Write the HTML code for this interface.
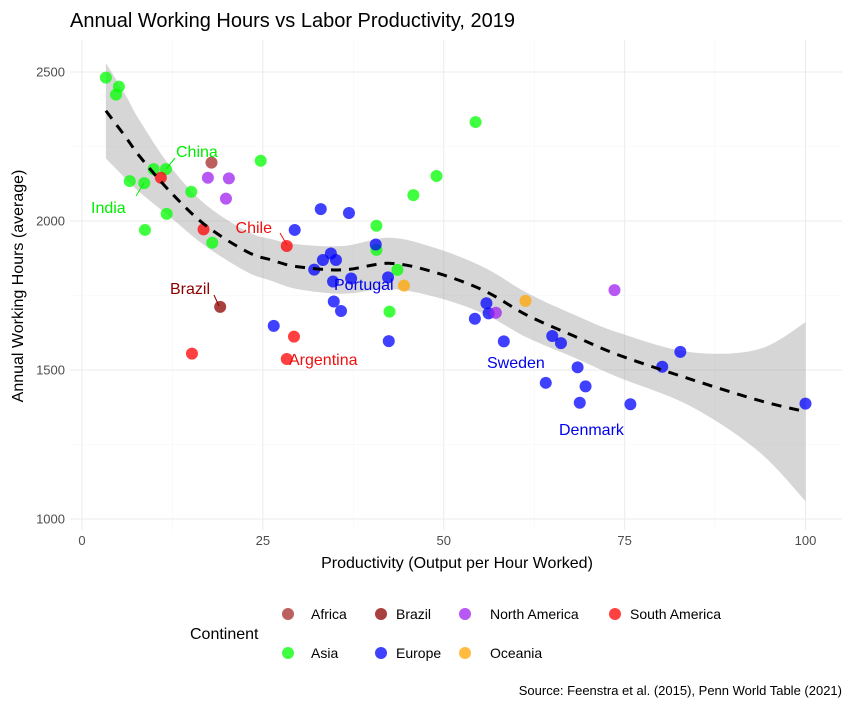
<!DOCTYPE html>
<html><head><meta charset="utf-8">
<style>
body{margin:0;background:#fff;}
svg{display:block;font-family:"Liberation Sans",Arial,sans-serif;}
</style></head>
<body>
<svg id="chart" width="852" height="708" viewBox="0 0 852 708" xmlns="http://www.w3.org/2000/svg">
<rect x="0" y="0" width="852" height="708" fill="#fff"/>
<text x="70" y="27" font-size="20" fill="#000">Annual Working Hours vs Labor Productivity, 2019</text>
<g id="grid"></g>
<g id="band"></g>
<g id="points"></g>
<g id="labels"></g>
<g id="axes"></g>
<text x="457" y="568" font-size="16" text-anchor="middle" fill="#000">Productivity (Output per Hour Worked)</text>
<text transform="translate(23,286) rotate(-90)" font-size="16" text-anchor="middle" fill="#000">Annual Working Hours (average)</text>
<g id="legend"></g>
<text x="842" y="695" font-size="13" text-anchor="end" fill="#000">Source: Feenstra et al. (2015), Penn World Table (2021)</text>
</svg>
<script>
const xTicks=[0,25,50,75,100];
const yTicks=[1000,1500,2000,2500];
const continents=["Africa","Brazil","North America","South America","Asia","Europe","Oceania"];
const colors={"Africa":"#a52a2a","Brazil":"#8b0000","North America":"#a020f0","South America":"#ff0000","Asia":"#00ff00","Europe":"#0000ff","Oceania":"#ffa500"};
const asiaX=[3.3,5.1,4.7,6.6,8.6,8.7,9.9,11.6,11.7,15.1,18.0,24.7,40.7,40.7,43.6,42.5,45.8,49.0,54.4];
const asiaY=[2481,2451,2424,2134,2127,1970,2174,2174,2024,2098,1927,2202,1984,1903,1836,1696,2087,2151,2332];
const europeX=[33.0,36.9,29.4,40.6,34.4,33.3,35.1,32.1,34.7,37.2,42.3,34.8,35.8,26.5,42.4,55.9,56.2,54.3,58.3,65.0,66.2,64.1,68.5,69.6,68.8,75.8,80.2,82.7,100];
const europeY=[2040,2027,1970,1921,1891,1869,1869,1837,1797,1807,1811,1730,1698,1648,1597,1724,1690,1672,1596,1614,1590,1457,1509,1445,1390,1385,1511,1561,1387];
const southAmX=[10.9,16.8,28.3,15.2,29.3,28.3];
const southAmY=[2145,1972,1916,1555,1612,1537];
const brazilX=[19.1];
const brazilY=[1712];
const africaX=[17.9];
const africaY=[2196];
const northAmX=[17.4,20.3,19.9,57.2,73.6];
const northAmY=[2145,2143,2075,1692,1768];
const oceaniaX=[44.5,61.3];
const oceaniaY=[1783,1732];
const smoothX=[3.3,6,8,12.2,17,22.8,26.2,29.7,36.1,42.6,49,55.6,61.5,68,74.2,84,93.4,100];
const smoothY=[2370,2283,2216,2098,1987,1897,1869,1847,1836,1858,1826,1766,1684,1614,1550,1470,1399,1360];
const smoothSE=[160,140,120,85,70,68,70,75,80,86,82,78,75,72,75,90,170,300];
const labelNames=["China","India","Chile","Brazil","Portugal","Argentina","Sweden","Denmark"];

const NS="http://www.w3.org/2000/svg";
const X0=70,X1=842,Y0=40,Y1=530;
function sx(v){return 82+v*7.235;}
function sy(v){return 72+(2500-v)*0.298;}
function mk(tag,attrs,parent){const e=document.createElementNS(NS,tag);for(const k in attrs)e.setAttribute(k,attrs[k]);parent.appendChild(e);return e;}
function smoothPath(p){let d='M'+p[0][0]+','+p[0][1];for(let i=0;i<p.length-1;i++){const a=p[i-1]||p[i],b=p[i],c=p[i+1],e=p[i+2]||c;
 d+=' C'+(b[0]+(c[0]-a[0])/6)+','+(b[1]+(c[1]-a[1])/6)+' '+(c[0]-(e[0]-b[0])/6)+','+(c[1]-(e[1]-b[1])/6)+' '+c[0]+','+c[1];}return d;}

const grid=document.getElementById('grid');
for(let v=-12.5;v<=112.5;v+=12.5){const x=sx(v);if(x<X0||x>X1)continue;const major=(v%25===0);
 const l=mk('line',{x1:x,x2:x,y1:Y0,y2:Y1,stroke:major?'#ebebeb':'#f5f5f5','stroke-width':major?1:0.6},grid);
 
 }
for(let v=1000;v<=2750;v+=250){const y=sy(v);if(y<Y0||y>Y1)continue;const major=(v%500===0);
 const l=mk('line',{x1:X0,x2:X1,y1:y,y2:y,stroke:major?'#ebebeb':'#f5f5f5','stroke-width':major?1:0.6},grid);
 
 }

const axes=document.getElementById('axes');
xTicks.forEach(t=>{const e=mk('text',{x:sx(t),y:545,'font-size':13,'text-anchor':'middle',fill:'#4d4d4d'},axes);e.textContent=t;
 
 });
yTicks.forEach(t=>{const e=mk('text',{x:65,y:sy(t)+4.5,'font-size':13,'text-anchor':'end',fill:'#4d4d4d'},axes);e.textContent=t;
 
 });

const band=document.getElementById('band');
const upP=smoothX.map((x,i)=>[sx(x),sy(smoothY[i]+smoothSE[i])]);
const loP=smoothX.map((x,i)=>[sx(x),sy(smoothY[i]-smoothSE[i])]).reverse();
const bandD=smoothPath(upP)+' L'+loP[0][0]+','+loP[0][1]+' '+smoothPath(loP).slice(1)+' Z';
const poly=mk('path',{d:bandD,fill:'#999',opacity:0.4},band);



const pts=document.getElementById('points');
const series=[["Asia",asiaX,asiaY],["Europe",europeX,europeY],["South America",southAmX,southAmY],["Brazil",brazilX,brazilY],["Africa",africaX,africaY],["North America",northAmX,northAmY],["Oceania",oceaniaX,oceaniaY]];
series.forEach(([name,xs,ys])=>{xs.forEach((x,i)=>{
 const c=mk('circle',{cx:sx(x),cy:sy(ys[i]),r:6,fill:colors[name],'fill-opacity':0.75},pts);
 
 });});

const line=document.createElementNS(NS,'path');
line.setAttribute('d',smoothPath(smoothX.map((x,i)=>[sx(x),sy(smoothY[i])])));
line.setAttribute('fill','none');line.setAttribute('stroke','#000');line.setAttribute('stroke-width','3');line.setAttribute('stroke-dasharray','10,8');
band.parentNode.insertBefore(line,pts.nextSibling);



const labs=document.getElementById('labels');
const labelSpec=[[labelNames[0],176,157,'#00ee00','start',[166,169,175,158]],[labelNames[1],91,213,'#00ee00','start',[144,183,136,196]],[labelNames[2],272,233,'#ee1111','end',[280,233,287,245]],[labelNames[3],210,294,'#8b0000','end',[214,295,219,306]],[labelNames[4],334,290,'#0000ee','start',null],[labelNames[5],289,365,'#ee1111','start',null],[labelNames[6],487,368,'#0000ee','start',null],[labelNames[7],559,435,'#0000ee','start',null]];
labelSpec.forEach(([t,x,y,c,a,seg])=>{
 if(seg){const s=mk('line',{x1:seg[0],y1:seg[1],x2:seg[2],y2:seg[3],stroke:c,'stroke-width':1},labs);
  
  }
 const e=mk('text',{x:x,y:y,'font-size':16,'text-anchor':a,fill:c},labs);e.textContent=t;
 
 });

const leg=document.getElementById('legend');
const lt=mk('text',{x:190,y:639,'font-size':16,fill:'#000'},leg);lt.textContent='Continent';


const legPos=[[288,614,311],[381,614,396],[465,614,490],[615,614,630],[288,653,311],[381,653,396],[465,653,490]];
continents.forEach((n,i)=>{const [x,y,tx]=legPos[i];
 const c=mk('circle',{cx:x,cy:y,r:6,fill:colors[n],'fill-opacity':0.75},leg);
 
 
 const t=mk('text',{x:tx,y:y+5,'font-size':14,fill:'#000'},leg);t.textContent=n;
 
 });
</script>
</body></html>
